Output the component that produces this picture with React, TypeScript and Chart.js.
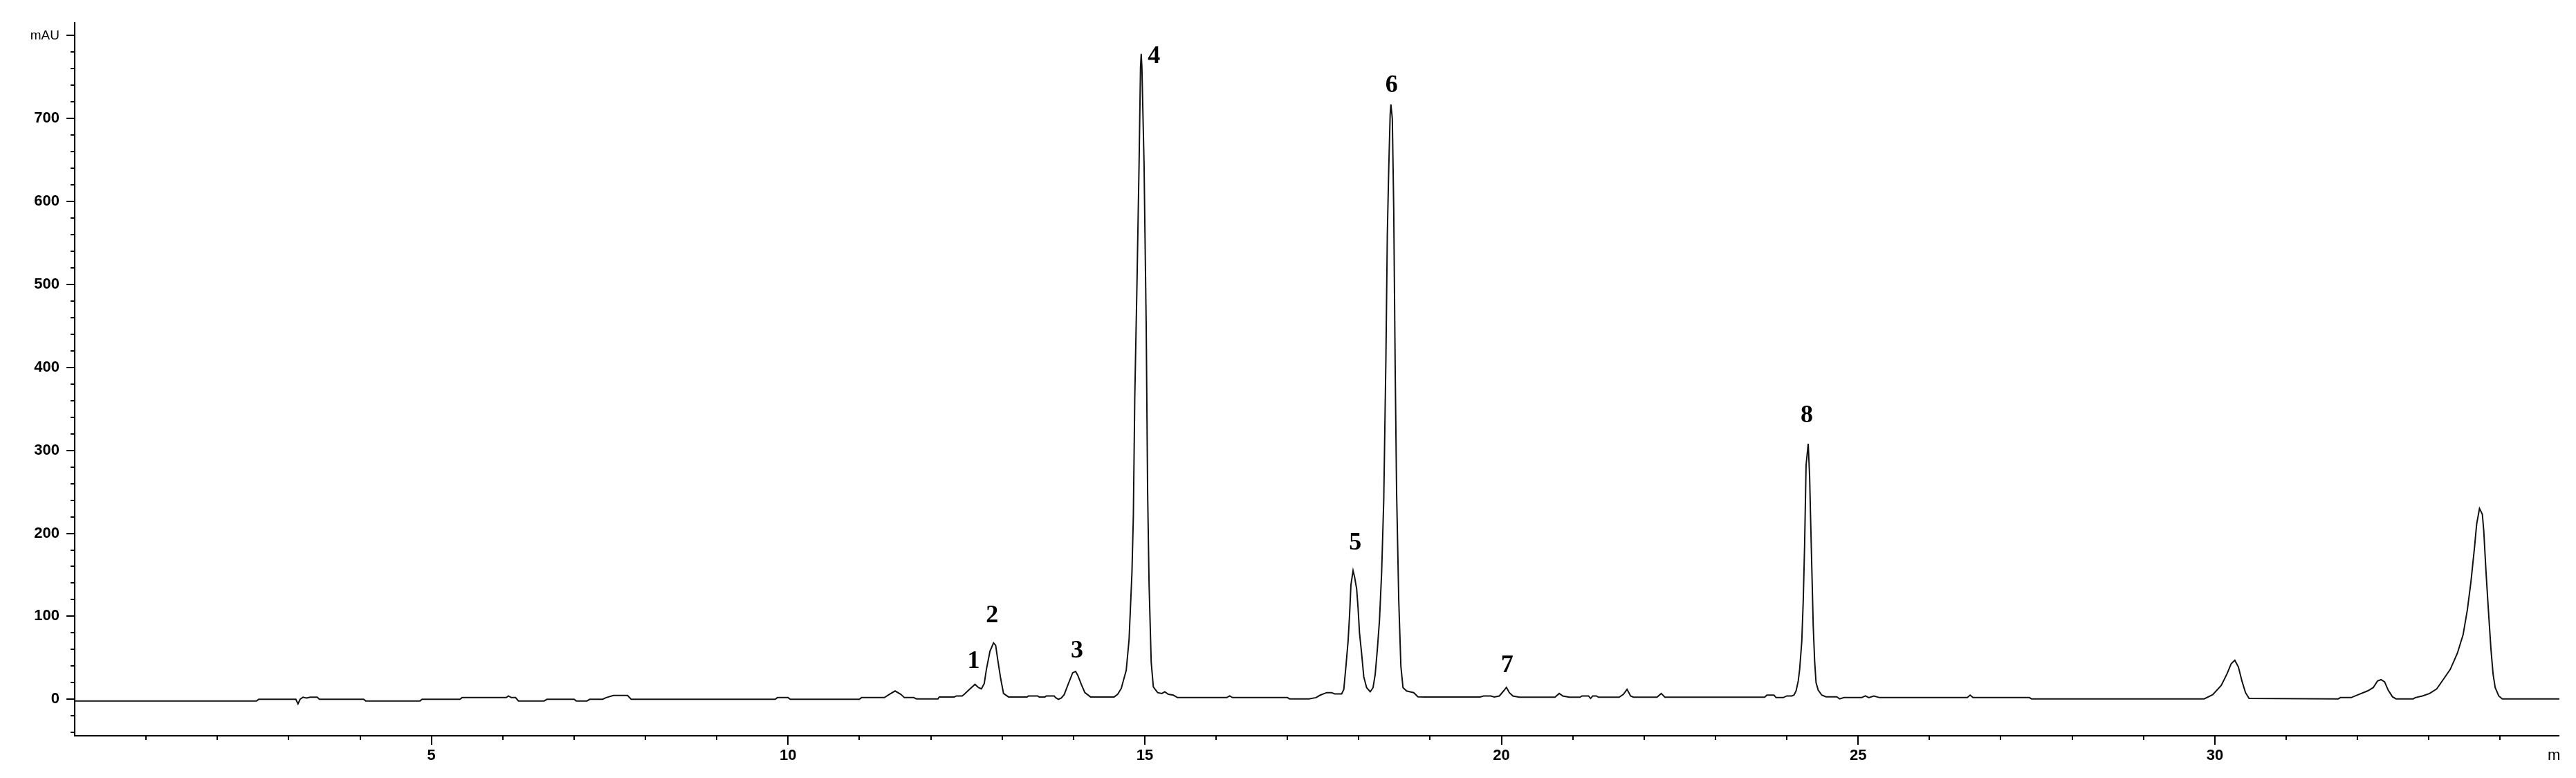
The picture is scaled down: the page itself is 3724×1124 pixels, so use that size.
import React, { useEffect, useRef } from 'react';
import { Chart, registerables } from 'chart.js';

Chart.register(...registerables);

// Retention time (min) and detector response (mAU)
const retentionTimes = [
  0.0, 2.55, 2.58, 3.1, 3.13, 3.16, 3.2, 3.25, 3.3, 3.4, 3.43, 4.05, 4.08, 4.84, 4.87, 5.4, 5.43, 6.05, 6.08, 6.12,
  6.18, 6.22, 6.58, 6.62, 7.0, 7.03, 7.18, 7.22, 7.4, 7.45, 7.55, 7.75, 7.8, 9.82, 9.85, 10.0, 10.03, 11.0, 11.03, 11.35,
  11.42, 11.5, 11.58, 11.63, 11.76, 11.8, 12.1, 12.12, 12.33, 12.36, 12.44, 12.47, 12.55, 12.62, 12.67, 12.71, 12.75, 12.78, 12.83, 12.88,
  12.91, 12.94, 12.98, 13.02, 13.09, 13.35, 13.37, 13.5, 13.52, 13.6, 13.62, 13.73, 13.75, 13.79, 13.83, 13.87, 13.93, 13.99, 14.03, 14.06,
  14.11, 14.16, 14.24, 14.57, 14.62, 14.67, 14.74, 14.78, 14.82, 14.84, 14.86, 14.89, 14.92, 14.94, 14.95, 14.96, 14.99, 15.02, 15.04, 15.06,
  15.09, 15.12, 15.18, 15.24, 15.28, 15.33, 15.4, 15.46, 16.15, 16.19, 16.23, 17.0, 17.03, 17.3, 17.4, 17.46, 17.55, 17.62, 17.66, 17.76,
  17.79, 17.82, 17.85, 17.87, 17.89, 17.92, 17.94, 17.97, 17.99, 18.01, 18.04, 18.07, 18.11, 18.16, 18.2, 18.23, 18.26, 18.29, 18.32, 18.35,
  18.38, 18.4, 18.42, 18.44, 18.45, 18.47, 18.49, 18.51, 18.53, 18.56, 18.59, 18.62, 18.67, 18.77, 18.83, 18.92, 19.7, 19.75, 19.85, 19.9,
  19.97, 20.03, 20.07, 20.11, 20.16, 20.25, 20.75, 20.81, 20.86, 20.95, 21.1, 21.13, 21.22, 21.25, 21.28, 21.33, 21.36, 21.65, 21.71, 21.76,
  21.81, 21.85, 22.18, 22.24, 22.29, 23.69, 23.72, 23.82, 23.85, 23.95, 24.0, 24.07, 24.1, 24.13, 24.16, 24.18, 24.21, 24.23, 24.25, 24.27,
  24.3, 24.32, 24.33, 24.35, 24.37, 24.39, 24.41, 24.44, 24.49, 24.55, 24.7, 24.74, 24.8, 25.05, 25.1, 25.15, 25.22, 25.3, 26.53, 26.57,
  26.61, 27.4, 27.43, 29.85, 29.97, 30.09, 30.17, 30.23, 30.28, 30.33, 30.38, 30.43, 30.48, 31.73, 31.76, 31.91, 32.01, 32.14, 32.22, 32.28,
  32.33, 32.38, 32.43, 32.49, 32.54, 32.78, 32.81, 32.91, 33.01, 33.11, 33.2, 33.3, 33.4, 33.48, 33.54, 33.59, 33.64, 33.67, 33.71, 33.75,
  33.77, 33.8, 33.83, 33.87, 33.9, 33.93, 33.98, 34.03, 34.83,
];

const absorbance = [
  -2, -2, 0, 0, -5.5, 0, 2.5, 1.5, 2.5, 2.5, 0, 0, -2, -2, 0, 0, 2, 2, 4, 2,
  2, -2, -2, 0, 0, -2, -2, 0, 0, 2, 4.5, 4.5, 0, 0, 2, 2, 0, 0, 2, 2,
  6, 10, 6, 2, 2, 0.5, 0.5, 2.8, 2.8, 4, 4, 6, 12.5, 18, 14, 12.5, 19, 36, 58, 68,
  65, 47, 25, 7, 2.8, 2.8, 4, 4, 2.8, 2.8, 4, 4, 2, 0, 1.5, 5.5, 19, 32, 33.5, 29,
  18, 8, 2.8, 2.8, 6, 13, 35, 72, 152, 221, 365, 498, 645, 761, 778, 761, 645, 450, 250, 140,
  45, 15, 8, 7, 9, 6, 5, 2, 2, 4, 2, 2, 0.5, 0.5, 2, 5, 8, 8, 6.5, 6.5,
  12, 40, 70, 100, 138, 155, 148, 133, 110, 80, 55, 27, 14, 9, 14, 30, 60, 95, 152, 240,
  410, 560, 640, 705, 717, 700, 590, 400, 250, 120, 40, 14, 10, 8, 3, 2.8, 2.8, 4, 4, 2.8,
  4, 10, 14.4, 8, 4, 2.5, 2.5, 7, 4, 2.5, 2.5, 4, 4, 1, 4, 4, 2.5, 2.5, 6, 12,
  4, 2.5, 2.5, 7, 2.5, 2.5, 5, 5, 2, 2, 4, 4, 5, 10, 22, 36, 70, 118, 187, 282,
  308, 268, 230, 160, 89, 46, 20, 11, 5, 3, 3, 0.5, 2, 2, 4, 2, 4, 2, 2, 5,
  2, 2, 0.5, 0.5, 5.5, 16.7, 30.5, 43, 47, 39, 22, 8, 1, 0.5, 2, 2, 5.5, 10, 14, 22,
  23.6, 21, 11, 3, 0.5, 0.5, 2, 4, 7, 12.5, 23.6, 36, 55.5, 77.7, 108, 141.6, 183, 211, 230, 223,
  202.6, 155.5, 113.8, 61, 30.6, 14, 4, 0.5, 0.5,
];

// Peak annotations (label text and the data point where each label is centred)
const peakNames = ['1', '2', '3', '4', '5', '6', '7', '8'];
const peakLabelTimes = [12.6, 12.86, 14.05, 15.13, 17.95, 18.46, 20.08, 24.28];
const peakLabelValues = [45.8, 100.8, 57.9, 775, 188, 740, 40.8, 341.5];

// Axis settings / labels
const xMin = 0;
const xMax = 34.83;
const xMajorStep = 5;
const xMinorStep = 1;
const yMin = -44;
const yMax = 815;
const yMajorStep = 100;
const yMinorStep = 20;
const yTopTickValue = 800;
const yUnitLabel = 'mAU';
const xUnitLabel = 'min';

const W = 3700;
const H = 1124;

const decorPlugin = {
  id: 'chromDecor',
  afterDraw(chart: any) {
    const { ctx, chartArea, scales } = chart;
    const xs = scales.x;
    const ys = scales.y;
    ctx.save();
    ctx.strokeStyle = '#000';
    ctx.lineWidth = 2;
    ctx.beginPath();
    for (let m = xMinorStep; m <= xMax; m += xMinorStep) {
      const px = Math.round(xs.getPixelForValue(m)) + 0.0;
      const len = m % xMajorStep === 0 ? 13 : 6;
      ctx.moveTo(px, chartArea.bottom);
      ctx.lineTo(px, chartArea.bottom + len);
    }
    for (let v = -40; v <= yTopTickValue; v += yMinorStep) {
      const py = Math.round(ys.getPixelForValue(v));
      const len = v % yMajorStep === 0 ? 12 : 6;
      ctx.moveTo(chartArea.left - len, py);
      ctx.lineTo(chartArea.left, py);
    }
    ctx.stroke();

    // peak numbers
    ctx.fillStyle = '#000';
    ctx.font = "bold 36px 'Liberation Serif'";
    ctx.textAlign = 'center';
    ctx.textBaseline = 'middle';
    peakNames.forEach((name, i) => {
      const px = xs.getPixelForValue(peakLabelTimes[i]);
      const py = ys.getPixelForValue(peakLabelValues[i]);
      ctx.fillText(name, px, py);
    });

    // unit label of the time axis (clipped at the right edge as in the original)
    ctx.font = "22px 'Liberation Sans'";
    ctx.textAlign = 'left';
    ctx.fillText(xUnitLabel, 3683, chartArea.bottom + 29);
    ctx.restore();
  },
};

export default function App() {
  const canvasRef = useRef<HTMLCanvasElement | null>(null);

  useEffect(() => {
    if (!canvasRef.current) return;
    const points = retentionTimes.map((t, i) => ({ x: t, y: absorbance[i] }));
    const chart = new Chart(canvasRef.current, {
      type: 'line',
      data: {
        datasets: [
          {
            data: points,
            borderColor: '#111',
            borderWidth: 2,
            pointRadius: 0,
            tension: 0,
            fill: false,
          },
        ],
      },
      options: {
        animation: false,
        responsive: false,
        maintainAspectRatio: false,
        layout: { padding: { top: 32, right: 0, left: 0, bottom: 0 } },
        plugins: { legend: { display: false }, tooltip: { enabled: false } },
        scales: {
          x: {
            type: 'linear',
            min: xMin,
            max: xMax,
            afterFit: (s: any) => {
              s.height = 61;
            },
            grid: { display: false, drawTicks: false },
            border: { display: true, color: '#000', width: 2 },
            ticks: {
              stepSize: xMajorStep,
              includeBounds: false,
              autoSkip: false,
              maxRotation: 0,
              padding: 16,
              color: '#000',
              font: { family: 'Liberation Sans', size: 22, weight: 'bold' },
              callback: (v: any) => (v === 0 ? '' : String(v)),
            },
          },
          y: {
            type: 'linear',
            min: yMin,
            max: yMax,
            afterFit: (s: any) => {
              s.width = 108;
            },
            grid: { display: false, drawTicks: false },
            border: { display: true, color: '#000', width: 2 },
            ticks: {
              stepSize: yMajorStep,
              includeBounds: false,
              padding: 22,
              color: '#000',
              font: (c: any) =>
                c.tick && c.tick.value === yTopTickValue
                  ? { family: 'Liberation Sans', size: 19, weight: 'normal' }
                  : { family: 'Liberation Sans', size: 22, weight: 'bold' },
              callback: (v: any) => (v === yTopTickValue ? yUnitLabel : String(v)),
            },
          },
        },
      } as any,
      plugins: [decorPlugin],
    });
    return () => chart.destroy();
  }, []);

  return (
    <div style={{ position: 'absolute', left: 0, top: 0, width: W, height: H, background: '#fff' }}>
      <canvas ref={canvasRef} width={W} height={H} style={{ width: W, height: H }} />
    </div>
  );
}
